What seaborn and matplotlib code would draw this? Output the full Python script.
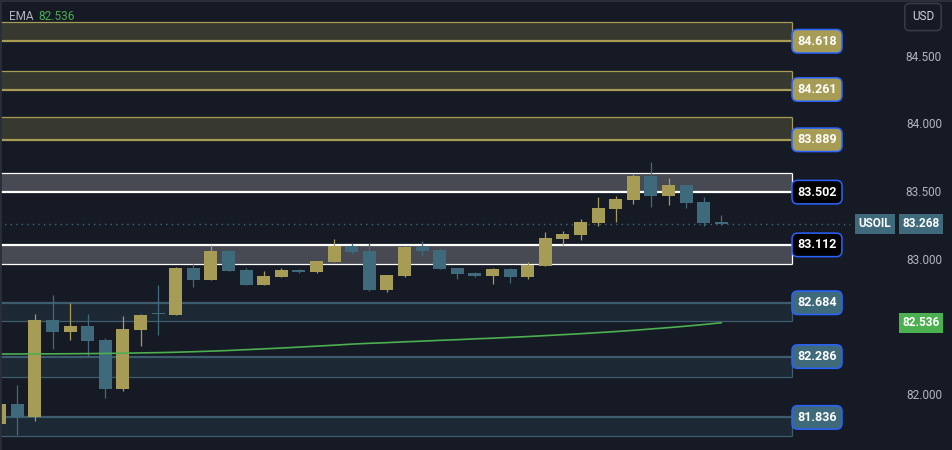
import matplotlib
matplotlib.use("Agg")
import matplotlib.pyplot as plt
import matplotlib.transforms as mtransforms
import seaborn as sns
import numpy as np
import pandas as pd

# ---------------- data ----------------
opens = [81.787, 81.935, 81.839, 82.556, 82.467, 82.512, 82.408, 82.046, 82.482, 82.601,
         82.593, 82.941, 82.852, 83.067, 82.926, 82.815, 82.874, 82.926, 82.911, 82.985,
         83.104, 83.067, 82.778, 82.882, 83.096, 83.074, 82.941, 82.904, 82.882, 82.933,
         82.874, 82.956, 83.155, 83.185, 83.274, 83.377, 83.444, 83.621, 83.473, 83.555,
         83.429, 83.281]
highs = [81.935, 82.075, 82.601, 82.741, 82.682, 82.601, 82.423, 82.586, 82.601, 82.815,
         82.948, 82.970, 83.111, 83.074, 82.941, 82.919, 82.941, 82.933, 82.993, 83.155,
         83.126, 83.126, 82.889, 83.104, 83.141, 83.081, 82.941, 82.911, 82.941, 82.941,
         82.985, 83.207, 83.214, 83.303, 83.466, 83.473, 83.636, 83.725, 83.607, 83.555,
         83.466, 83.333]
lows = [81.787, 81.706, 81.809, 82.342, 82.408, 82.290, 81.979, 82.031, 82.364, 82.445,
        82.593, 82.800, 82.852, 82.919, 82.815, 82.815, 82.874, 82.904, 82.904, 82.985,
        83.044, 82.771, 82.763, 82.874, 83.037, 82.933, 82.859, 82.874, 82.822, 82.830,
        82.859, 82.956, 83.111, 83.148, 83.251, 83.281, 83.414, 83.392, 83.407, 83.385,
        83.251, 83.259]
closes = [81.935, 81.839, 82.556, 82.467, 82.512, 82.401, 82.046, 82.490, 82.593, 82.598,
          82.941, 82.852, 83.067, 82.919, 82.815, 82.882, 82.926, 82.911, 82.993, 83.104,
          83.059, 82.778, 82.889, 83.096, 83.067, 82.933, 82.896, 82.882, 82.933, 82.874,
          82.963, 83.163, 83.192, 83.281, 83.385, 83.451, 83.621, 83.473, 83.555, 83.422,
          83.274, 83.268]
ema = [82.305, 82.305, 82.306, 82.306, 82.307, 82.308, 82.309, 82.311, 82.313, 82.315,
       82.318, 82.322, 82.326, 82.331, 82.337, 82.343, 82.349, 82.356, 82.363, 82.370,
       82.378, 82.384, 82.389, 82.395, 82.400, 82.406, 82.411, 82.417, 82.422, 82.428,
       82.434, 82.441, 82.448, 82.455, 82.463, 82.471, 82.480, 82.490, 82.500, 82.511,
       82.523, 82.536]

levels = [84.618, 84.261, 83.889, 83.502, 83.112, 82.684, 82.286, 81.836]
zone_far = [84.758, 84.401, 84.058, 83.643, 82.970, 82.550, 82.135, 81.700]
zone_kind = ["yellow", "yellow", "yellow", "white", "white", "teal", "teal", "teal"]

price_ticks = [84.5, 84.0, 83.5, 83.0, 82.5, 82.0]
price_tick_labels = ["84.500", "84.000", "83.500", "83.000", "82.500", "82.000"]

symbol = "USOIL"
last_price = 83.268
ema_last = 82.536
currency = "USD"

# ---------------- style ----------------
BG = "#161a25"
UP = "#a69c56"
DOWN = "#3e6a7b"
GREEN = "#4caf50"
AXIS_TXT = "#b2b5be"

zone_style = {
    "yellow": dict(fill="#37382f", edge="#a69c56", label_bg="#a69c56", label_fg="white"),
    "white": dict(fill="#474a53", edge="#ffffff", label_bg="#000000", label_fg="white"),
    "teal": dict(fill="#1d2835", edge="#3d5d6e", label_bg="#3e6a7b", label_fg="white"),
}

sns.set_theme(style="dark", rc={"axes.facecolor": BG, "figure.facecolor": BG})
plt.rcParams["font.family"] = ["Roboto", "DejaVu Sans"]

W, H = 953, 450
fig = plt.figure(figsize=(W / 100, H / 100), dpi=100)
ax = fig.add_axes([0, 0, 1, 1])
ax.set_facecolor(BG)
for s in ax.spines.values():
    s.set_visible(False)
ax.set_xticks([])
ax.set_yticks([])

px_per_bar = 17.6
x0 = 0.017
ax.set_xlim(x0, x0 + W / px_per_bar)
ax.set_ylim(81.595, 84.923)

zone_right = x0 + 792 / px_per_bar
dotted_right = x0 + 850 / px_per_bar

# ---------------- zones ----------------
for lv, far, kind in zip(levels, zone_far, zone_kind):
    st = zone_style[kind]
    lo, hi = min(lv, far), max(lv, far)
    ax.fill_between([x0 - 1, zone_right], lo, hi, color=st["fill"], zorder=1, linewidth=0)
    ax.hlines(lv, x0 - 1, zone_right, color=st["edge"], linewidth=1.6, zorder=2)
    ax.hlines(far, x0 - 1, zone_right, color=st["edge"], linewidth=0.9, zorder=2)
    ax.vlines(zone_right, lo, hi, color=st["edge"], linewidth=0.9, zorder=2)

# ---------------- candles ----------------
idx = np.arange(len(opens))
o = np.array(opens); c = np.array(closes); h = np.array(highs); l = np.array(lows)
colors = [UP if cc >= oo else DOWN for oo, cc in zip(o, c)]
bottoms = np.minimum(o, c)
heights = np.maximum(np.abs(c - o), 0.012)
ax.vlines(idx, l, h, colors=colors, linewidth=0.9, zorder=3)
ax.bar(idx, heights, bottom=bottoms, width=0.74, color=colors, linewidth=0, zorder=4)

# ---------------- EMA ----------------
df = pd.DataFrame({"i": idx, "ema": ema})
sns.lineplot(data=df, x="i", y="ema", ax=ax, color=GREEN, linewidth=1.2, zorder=5)
ax.set_xlabel(""); ax.set_ylabel("")
ax.set_xticks([]); ax.set_yticks([])

# last price dotted line
ax.hlines(last_price, x0 - 1, dotted_right, color=DOWN, linewidth=1.0,
          linestyles=(0, (1, 3)), zorder=2)

# ---------------- right price axis ----------------
tr = mtransforms.blended_transform_factory(ax.transAxes, ax.transData)
for v, t in zip(price_ticks, price_tick_labels):
    ax.text(942 / W, v, t, transform=tr, ha="right", va="center",
            color=AXIS_TXT, fontsize=8.5, zorder=6)

# level labels
for lv, kind in zip(levels, zone_kind):
    st = zone_style[kind]
    ax.text(817 / W, lv, f"{lv:.3f}", transform=tr, ha="center", va="center",
            color=st["label_fg"], fontsize=9, fontweight="bold", zorder=8,
            bbox=dict(boxstyle="round,pad=0.42,rounding_size=0.45",
                      facecolor=st["label_bg"], edgecolor="#2962ff", linewidth=1.1))

# symbol + last price labels
ax.text(875 / W, last_price, symbol, transform=tr, ha="center", va="center",
        color="white", fontsize=8.5, fontweight="bold", zorder=8,
        bbox=dict(boxstyle="square,pad=0.3", facecolor=DOWN, edgecolor="none"))
ax.text(921 / W, last_price, f"{last_price:.3f}", transform=tr, ha="center", va="center",
        color="white", fontsize=8.5, fontweight="bold", zorder=8,
        bbox=dict(boxstyle="square,pad=0.3", facecolor=DOWN, edgecolor="none"))

# EMA price label
ax.text(921 / W, ema_last, f"{ema_last:.3f}", transform=tr, ha="center", va="center",
        color="white", fontsize=8.5, fontweight="bold", zorder=8,
        bbox=dict(boxstyle="square,pad=0.3", facecolor=GREEN, edgecolor="none"))

# currency box
ax.text(923 / W, 1 - 17 / H, currency, transform=ax.transAxes, ha="center", va="center",
        color="#d1d4dc", fontsize=8.5, zorder=8,
        bbox=dict(boxstyle="round,pad=0.6,rounding_size=0.4", facecolor=BG,
                  edgecolor="#363a45", linewidth=1.2))

# EMA legend top-left
ax.text(9 / W, 1 - 16 / H, "EMA", transform=ax.transAxes, ha="left", va="center",
        color=AXIS_TXT, fontsize=8.5, zorder=8)
ax.text(38 / W, 1 - 16 / H, f"{ema_last:.3f}", transform=ax.transAxes, ha="left", va="center",
        color=GREEN, fontsize=8.5, zorder=8)

# subtle top/left frame
ax.axhline(84.923, color="#2a2e39", linewidth=3, zorder=9)
ax.axvline(x0, color="#2a2e39", linewidth=2, zorder=9)

fig.savefig("out.png", dpi=100, facecolor=BG)
